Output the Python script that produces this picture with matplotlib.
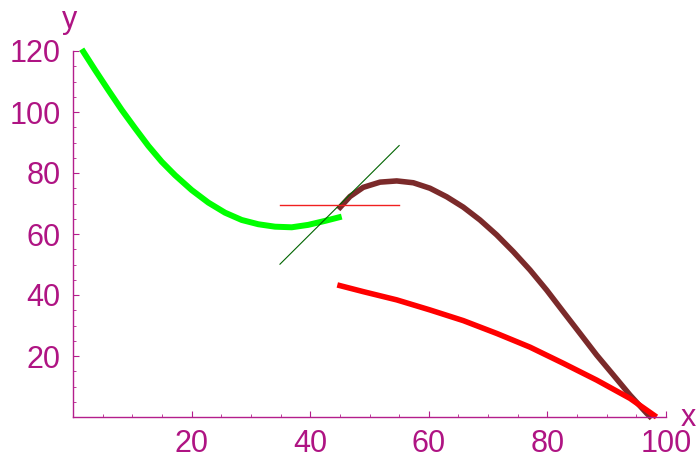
import matplotlib
matplotlib.use('Agg')
import matplotlib.pyplot as plt

# values
green_x = [1.47, 3.71, 5.95, 8.21, 10.46, 12.70, 14.96, 17.20, 20.02, 22.82, 25.63, 28.45,
           31.25, 34.06, 36.88, 39.68, 42.50, 45.31]
green_y = [120.6, 113.8, 107.2, 100.7, 94.7, 88.9, 83.7, 79.3, 74.4, 70.3, 67.0, 64.6,
           63.2, 62.4, 62.2, 63.0, 64.3, 65.7]

brown_x = [44.74, 46.71, 48.95, 51.77, 54.59, 57.39, 60.20, 63.02, 65.82, 68.63, 71.45,
           74.25, 77.07, 79.88, 82.68, 85.50, 88.31, 91.11, 93.93, 96.75, 97.59]
brown_y = [68.1, 72.3, 75.3, 77.0, 77.4, 76.8, 75.0, 72.2, 68.8, 64.6, 59.7,
           54.2, 48.2, 41.6, 34.5, 27.4, 20.3, 13.8, 7.2, 1.2, -0.4]

red_x = [44.57, 48.95, 54.59, 60.20, 65.82, 71.45, 77.07, 82.68, 88.31, 93.93, 98.4]
red_y = [43.3, 41.1, 38.4, 35.1, 31.6, 27.4, 22.9, 17.6, 12.1, 6.1, 0.0]

tangent_x = [34.9, 55.0]
tangent_y = [50.1, 89.0]
flat_x = [34.9, 55.0]
flat_y = [69.5, 69.5]

xticks = [20, 40, 60, 80, 100]
yticks = [20, 40, 60, 80, 100, 120]

axis_col = '#B41E8C'
text_col = '#AF1483'

plt.rcParams['font.family'] = ['Liberation Sans', 'DejaVu Sans']

fig = plt.figure(figsize=(6.96, 4.63), dpi=100)
ax = fig.add_axes([73/696, 46/463, 593/696, 366/463])

ax.plot(green_x, green_y, color='#00FF00', lw=4.3, clip_on=False,
        solid_capstyle='butt', solid_joinstyle='round')
ax.plot(brown_x, brown_y, color='#7B2A2A', lw=4.0, clip_on=False,
        solid_capstyle='butt', solid_joinstyle='round')
ax.plot(red_x, red_y, color='#FF0000', lw=4.0, clip_on=False,
        solid_capstyle='butt', solid_joinstyle='round')
ax.plot(tangent_x, tangent_y, color='#006400', lw=0.8, clip_on=False)
ax.plot(flat_x, flat_y, color='#F02020', lw=1.0, clip_on=False)

ax.set_xlim(0, 100)
ax.set_ylim(0, 120)
for s in ['top', 'right']:
    ax.spines[s].set_visible(False)
for s in ['left', 'bottom']:
    ax.spines[s].set_color(axis_col)
    ax.spines[s].set_linewidth(1.0)

ax.set_xticks(xticks)
ax.set_yticks(yticks)
ax.set_xticks(range(5, 100, 5), minor=True)
ax.set_yticks(range(5, 120, 5), minor=True)
ax.tick_params(which='major', direction='in', length=4, width=0.8, color=axis_col,
               labelcolor=text_col, labelsize=22)
ax.tick_params(which='minor', direction='in', length=2.3, width=0.6, color=axis_col)
ax.tick_params(axis='x', pad=9)
ax.tick_params(axis='y', pad=9)

fig.text(70/696, 1 - 20/463, 'y', color=text_col, fontsize=22, ha='center', va='center')
fig.text(688/696, 1 - 418/463, 'x', color=text_col, fontsize=22, ha='center', va='center')

fig.savefig('out.png', dpi=100)
